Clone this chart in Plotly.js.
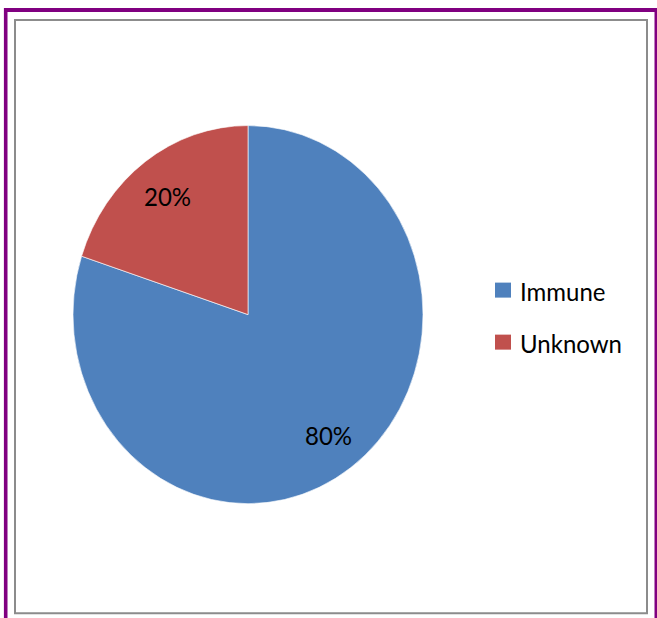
<!DOCTYPE html>
<html>
<head>
<meta charset="utf-8">
<script src="https://cdn.plot.ly/plotly-3.0.1.min.js"></script>
<style>
  html, body { margin: 0; padding: 0; background: #ffffff; overflow: hidden; }
  #wrap { width: 657px; height: 618px; overflow: hidden; }
  #chart { width: 657px; transform-origin: 0 0; }
</style>
</head>
<body>
<div id="wrap"><div id="chart"></div></div>
<script>
// Share of cases by immune status
const labels = ['Immune', 'Unknown'];
const values = [80, 20];
const sliceColors = ['#4F81BD', '#C0504D'];

const W = 657;
const FULL_H = 618;
const STRETCH = 1.08;              // the chart is drawn slightly taller than wide
const H = Math.round(FULL_H / STRETCH);

// pixel helpers for paper coordinates (margins are zero, so paper == figure)
const px = x => x / W;
const py = yTop => 1 - (yTop / STRETCH) / H;

const FONT = 'Lato, "Open Sans", "DejaVu Sans", sans-serif';
const FONT_SIZE = 24;

// pie geometry (in on-screen pixels)
const CX = 248, CY = 314.5, RX = 175, RY = 189.5;

const trace = {
  type: 'pie',
  labels: labels,
  values: values,
  sort: false,
  direction: 'clockwise',
  rotation: 0,
  marker: { colors: sliceColors, line: { color: '#ffffff', width: 0.6 } },
  textinfo: 'none',
  hoverinfo: 'label+percent',
  showlegend: false,
  domain: {
    x: [px(CX - RX), px(CX + RX)],
    y: [py(CY + RY), py(CY - RY)]
  }
};

const shapes = [
  // outer purple frame
  { type: 'rect', xref: 'paper', yref: 'paper',
    x0: px(5.7), x1: px(656.3), y0: py(640), y1: py(10),
    line: { color: '#800080', width: 3.6 }, fillcolor: 'rgba(0,0,0,0)' },
  // inner grey chart-area frame
  { type: 'rect', xref: 'paper', yref: 'paper',
    x0: px(15), x1: px(647), y0: py(613), y1: py(20),
    line: { color: '#8c8c8c', width: 2 }, fillcolor: 'rgba(0,0,0,0)' }
];
const annotations = [];

// percentage labels placed on each slice's bisector, clockwise from 12 o'clock
const total = values.reduce((a, b) => a + b, 0);
let cum = 0;
values.forEach(v => {
  const mid = (cum + v / 2) / total * 2 * Math.PI;
  cum += v;
  const k = 0.78;
  const lx = CX + Math.sin(mid) * RX * k;
  const ly = CY - Math.cos(mid) * RY * k;
  annotations.push({
    xref: 'paper', yref: 'paper',
    x: px(lx), y: py(ly + 1), xanchor: 'center', yanchor: 'middle',
    text: Math.round(v / total * 100) + '%', showarrow: false,
    font: { family: FONT, size: FONT_SIZE, color: '#000000' }
  });
});

// legend drawn as swatches and labels to the right of the pie
const legendRows = [290, 342];
labels.forEach((lab, i) => {
  const yc = legendRows[i];
  shapes.push({
    type: 'rect', xref: 'paper', yref: 'paper',
    x0: px(495), x1: px(511), y0: py(yc + 7.5), y1: py(yc - 7.5),
    line: { width: 0 }, fillcolor: sliceColors[i]
  });
  annotations.push({
    xref: 'paper', yref: 'paper',
    x: px(518), y: py(yc + 1), xanchor: 'left', yanchor: 'middle',
    text: lab, showarrow: false,
    font: { family: FONT, size: FONT_SIZE, color: '#000000' }
  });
});

const layout = {
  width: W,
  height: H,
  margin: { l: 0, r: 0, t: 0, b: 0, pad: 0 },
  paper_bgcolor: '#ffffff',
  plot_bgcolor: '#ffffff',
  showlegend: false,
  shapes: shapes,
  annotations: annotations,
  font: { family: FONT, color: '#000000' }
};

const el = document.getElementById('chart');
el.style.transform = 'scaleY(' + (FULL_H / H) + ')';
Plotly.newPlot(el, [trace], layout, { displayModeBar: false, staticPlot: true });
</script>
</body>
</html>
